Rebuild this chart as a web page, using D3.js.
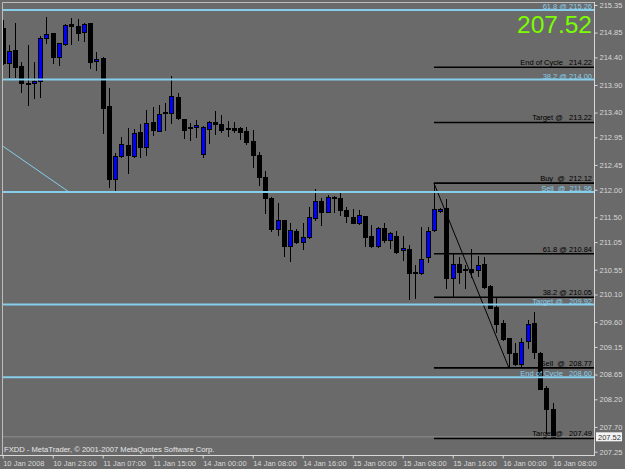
<!DOCTYPE html>
<html>
<head>
<meta charset="utf-8">
<script src="https://cdn.jsdelivr.net/npm/d3@7"></script>
<style>
body { margin: 0; background: #6a6a6a; }
text { font-family: "Liberation Sans", Arial, sans-serif; white-space: pre; }
</style>
</head>
<body>
<script>
// hourly bars
var opens = [214.93,214.30,214.53,214.24,213.94,213.94,213.97,214.75,214.84,214.41,
  214.64,215.01,214.97,214.86,215.02,214.33,214.39,213.52,212.19,212.61,
  212.81,212.61,213.05,212.77,213.23,213.07,213.39,213.39,213.68,213.28,
  213.12,213.14,212.65,213.10,213.23,213.19,213.10,213.12,213.12,213.07,
  212.88,212.63,212.23,211.85,211.29,211.45,210.98,211.25,211.05,211.14,
  211.49,211.79,211.60,211.87,211.85,211.63,211.51,211.40,211.52,211.16,
  210.98,211.31,211.09,211.16,210.91,210.93,210.51,210.49,210.78,211.27,
  211.61,211.67,210.40,210.65,210.55,210.56,210.55,210.65,210.26,209.87,
  209.58,209.31,209.04,208.84,209.26,209.58,209.04,208.41,208.02];
var highs = [215.08,214.62,215.02,214.32,214.62,214.32,214.79,215.13,214.84,214.66,
  215.00,215.11,215.10,215.02,215.03,214.50,214.40,213.85,212.67,212.96,
  213.12,213.10,213.19,213.45,213.50,213.54,213.57,214.06,213.75,213.29,
  213.21,213.26,213.15,213.24,213.43,213.35,213.24,213.23,213.13,213.14,
  213.08,212.68,212.34,211.86,211.76,211.46,211.40,211.29,211.40,211.69,
  212.01,211.85,211.90,211.88,211.94,211.69,211.65,211.63,211.53,211.36,
  211.32,211.40,211.23,211.25,211.16,211.00,210.64,211.33,211.33,212.12,
  211.67,211.83,210.85,210.78,210.64,210.93,210.80,210.78,210.27,210.04,
  209.64,209.32,209.22,209.31,209.64,209.78,209.05,208.44,208.13];
var lows = [214.28,214.04,214.04,213.77,213.54,213.66,213.68,214.66,214.30,214.26,
  214.63,214.64,214.72,214.70,214.21,214.17,213.03,212.05,211.96,212.59,
  212.30,212.60,212.60,212.63,212.99,213.06,213.08,213.21,213.29,212.94,
  212.90,212.96,212.59,212.85,213.01,213.05,212.97,213.05,212.92,212.83,
  212.41,212.09,211.58,211.25,211.18,210.80,210.71,211.04,210.93,211.13,
  211.45,211.36,211.59,211.60,211.54,211.41,211.39,211.38,210.98,210.96,
  210.96,211.05,210.94,210.85,210.73,210.02,210.04,210.48,210.69,211.26,
  211.60,210.22,210.06,210.31,210.22,210.42,210.44,210.22,209.85,209.42,
  209.28,208.79,208.83,208.79,209.13,208.95,208.38,207.59,207.49];
var closes = [214.30,214.52,214.23,213.94,213.92,213.97,214.75,214.82,214.41,214.66,
  214.99,214.97,214.84,215.01,214.32,214.37,213.48,212.19,212.61,212.83,
  212.63,213.03,212.77,213.21,213.08,213.37,213.41,213.70,213.30,213.08,
  213.14,213.17,213.14,213.23,213.19,213.08,213.12,213.08,213.05,212.87,
  212.63,212.23,211.85,211.29,211.45,210.98,211.27,211.05,211.14,211.51,
  211.79,211.60,211.87,211.85,211.63,211.52,211.40,211.54,211.14,210.98,
  211.31,211.09,211.22,210.87,210.94,210.49,210.49,210.74,211.25,211.65,
  211.65,210.40,210.65,210.51,210.56,210.51,210.64,210.24,209.86,209.57,
  209.29,209.04,208.84,209.24,209.57,209.06,208.39,208.02,207.52];

var xLabels = ["10 Jan 2008","10 Jan 23:00","11 Jan 07:00","11 Jan 15:00","14 Jan 00:00","14 Jan 08:00",
  "14 Jan 16:00","15 Jan 00:00","15 Jan 08:00","15 Jan 16:00","16 Jan 00:00","16 Jan 08:00"];
var yTicks = [215.35,214.85,214.40,213.90,213.40,212.95,212.45,212.00,211.50,211.05,
  210.55,210.10,209.60,209.15,208.65,208.20,207.70,207.25];

// fibo / pivot levels
var blueLevels = [215.26, 214.00, 211.96, 209.92, 208.60];
var blueNames = ["61.8 @ 215.26", "38.2 @ 214.00", "Sell  @  211.96", "Target @   209.92", "End of Cycle   208.60"];
var blackLevels = [214.22, 213.22, 212.12, 210.84, 210.05, 208.77, 207.49];
var blackNames = ["End of Cycle   214.22", "Target @   213.22", "Buy  @  212.12", "61.8 @ 210.84",
  "38.2 @ 210.05", "Sell  @  208.77", "Target @   207.49"];
var levelStart = 69;

var trendBlue = [[-0.1, 212.80], [10.6, 211.96]];
var trendBlack = [[69, 212.12], [81, 208.77]];
var lastPrice = 207.52;

var W = 625, H = 469;
var L = 2, R = 594, T = 2, B = 455;
var axisColor = "#d8d8d8";

var svg = d3.select("body").append("svg")
  .attr("width", W)
  .attr("height", H);

svg.append("rect").attr("width", W).attr("height", H).attr("fill", "#6a6a6a");

svg.append("clipPath").attr("id", "plot")
  .append("rect").attr("x", L).attr("y", T).attr("width", R - L).attr("height", B - T);

var x = d3.scaleLinear().domain([0, 88]).range([2.7, 552.7]);
var y = d3.scaleLinear().domain([207.25, 215.35]).range([451.7, 5]);

var plot = svg.append("g").attr("clip-path", "url(#plot)");

var bars = d3.range(opens.length).map(function(i) {
  return {i: i, o: opens[i], h: highs[i], l: lows[i], c: closes[i]};
});

function px(i) { return Math.round(x(i)); }

// wicks
plot.selectAll(".wick")
  .data(bars)
  .enter()
  .append("line")
  .attr("class", "wick")
  .attr("x1", function(d) { return px(d.i) + 0.5; })
  .attr("x2", function(d) { return px(d.i) + 0.5; })
  .attr("y1", function(d) { return Math.round(y(d.h)); })
  .attr("y2", function(d) { return Math.round(y(d.l)) + 1; })
  .attr("stroke", "#000")
  .attr("stroke-width", 1);

// bodies
plot.selectAll(".body")
  .data(bars)
  .enter()
  .append("rect")
  .attr("class", "body")
  .attr("x", function(d) { return px(d.i) - 1.5; })
  .attr("y", function(d) { return Math.round(y(Math.max(d.o, d.c))) + 0.5; })
  .attr("width", 4)
  .attr("height", function(d) { return Math.max(1, Math.round(y(Math.min(d.o, d.c))) - Math.round(y(Math.max(d.o, d.c)))); })
  .attr("fill", function(d) { return d.c > d.o ? "#0000ff" : "#000"; })
  .attr("stroke", "#000")
  .attr("stroke-width", 1);

// current price line
plot.append("line")
  .attr("x1", L).attr("x2", R)
  .attr("y1", y(lastPrice)).attr("y2", y(lastPrice))
  .attr("stroke", "#8e8e8e")
  .attr("stroke-width", 1);

// trend lines
var line = d3.line()
  .x(function(d) { return x(d[0]); })
  .y(function(d) { return y(d[1]); });

plot.append("path").attr("d", line(trendBlue))
  .attr("fill", "none").attr("stroke", "#87ceeb").attr("stroke-width", 1);
plot.append("path").attr("d", line(trendBlack))
  .attr("fill", "none").attr("stroke", "#000").attr("stroke-width", 1);

// level lines
plot.selectAll(".blue-level")
  .data(blueLevels)
  .enter()
  .append("line")
  .attr("class", "blue-level")
  .attr("x1", L).attr("x2", R)
  .attr("y1", function(d) { return y(d); })
  .attr("y2", function(d) { return y(d); })
  .attr("stroke", "#87ceeb")
  .attr("stroke-width", 2);

plot.selectAll(".black-level")
  .data(blackLevels)
  .enter()
  .append("line")
  .attr("class", "black-level")
  .attr("x1", x(levelStart)).attr("x2", R)
  .attr("y1", function(d) { return y(d); })
  .attr("y2", function(d) { return y(d); })
  .attr("stroke", "#000")
  .attr("stroke-width", 1.6);

// labels sit just above their line
svg.selectAll(".blue-name")
  .data(blueLevels)
  .enter()
  .append("text")
  .attr("x", 592)
  .attr("y", function(d) { return y(d) - 0.8; })
  .attr("text-anchor", "end")
  .attr("font-size", "7.5px")
  .attr("fill", "#87ceeb")
  .text(function(d, i) { return blueNames[i]; });

svg.selectAll(".black-name")
  .data(blackLevels)
  .enter()
  .append("text")
  .attr("x", 592)
  .attr("y", function(d) { return y(d) - 2.2; })
  .attr("text-anchor", "end")
  .attr("font-size", "7.5px")
  .attr("fill", "#000")
  .text(function(d, i) { return blackNames[i]; });

// big price
svg.append("text")
  .attr("x", 592).attr("y", 33)
  .attr("text-anchor", "end")
  .attr("font-size", "24.5px")
  .attr("fill", "#7cfc00")
  .text(lastPrice.toFixed(2));

// frame
svg.append("path")
  .attr("d", "M" + (L + 0.5) + "," + B + "V" + (T + 0.5) + "H" + (R + 0.5) + "V" + B)
  .attr("fill", "none")
  .attr("stroke", "#bdbdbd")
  .attr("stroke-width", 1);

// y axis
var yAxis = svg.append("g")
  .attr("transform", "translate(" + (R + 0.5) + ",0)")
  .call(d3.axisRight(y).tickValues(yTicks).tickSize(3).tickPadding(2).tickFormat(d3.format(".2f")));
yAxis.select(".domain").remove();
yAxis.selectAll("line").attr("stroke", axisColor);
yAxis.selectAll("text").attr("fill", axisColor).attr("font-size", "7.5px")
  .attr("font-family", "Liberation Sans, Arial, sans-serif");

// x axis
var xAxis = svg.append("g")
  .attr("transform", "translate(0," + (B + 0.5) + ")")
  .call(d3.axisBottom(x).tickValues(d3.range(0, 89, 8)).tickSize(3).tickPadding(2)
    .tickFormat(function(d, i) { return xLabels[i]; }));
xAxis.select(".domain").remove();
xAxis.selectAll("line").attr("stroke", axisColor);
xAxis.selectAll("text").attr("fill", axisColor).attr("font-size", "7.5px")
  .attr("text-anchor", "start").attr("dx", "0")
  .attr("font-family", "Liberation Sans, Arial, sans-serif");

svg.append("line")
  .attr("x1", 0).attr("x2", R + 1)
  .attr("y1", B + 0.5).attr("y2", B + 0.5)
  .attr("stroke", axisColor);
svg.append("line")
  .attr("x1", R + 0.5).attr("x2", R + 0.5)
  .attr("y1", T).attr("y2", B + 1)
  .attr("stroke", axisColor);

// last price box on the axis
svg.append("rect")
  .attr("x", 596).attr("y", y(lastPrice) - 4.5)
  .attr("width", 26).attr("height", 9)
  .attr("fill", "#f4f4f4");
svg.append("text")
  .attr("x", 598).attr("y", y(lastPrice) + 3)
  .attr("font-size", "7.5px")
  .attr("fill", "#333")
  .text(lastPrice.toFixed(2));

// footer
svg.append("text")
  .attr("x", 4).attr("y", 452)
  .attr("font-size", "7.6px")
  .attr("fill", "#e8e8e8")
  .text("FXDD - MetaTrader, \u00a9 2001-2007 MetaQuotes Software Corp.");
</script>
</body>
</html>
